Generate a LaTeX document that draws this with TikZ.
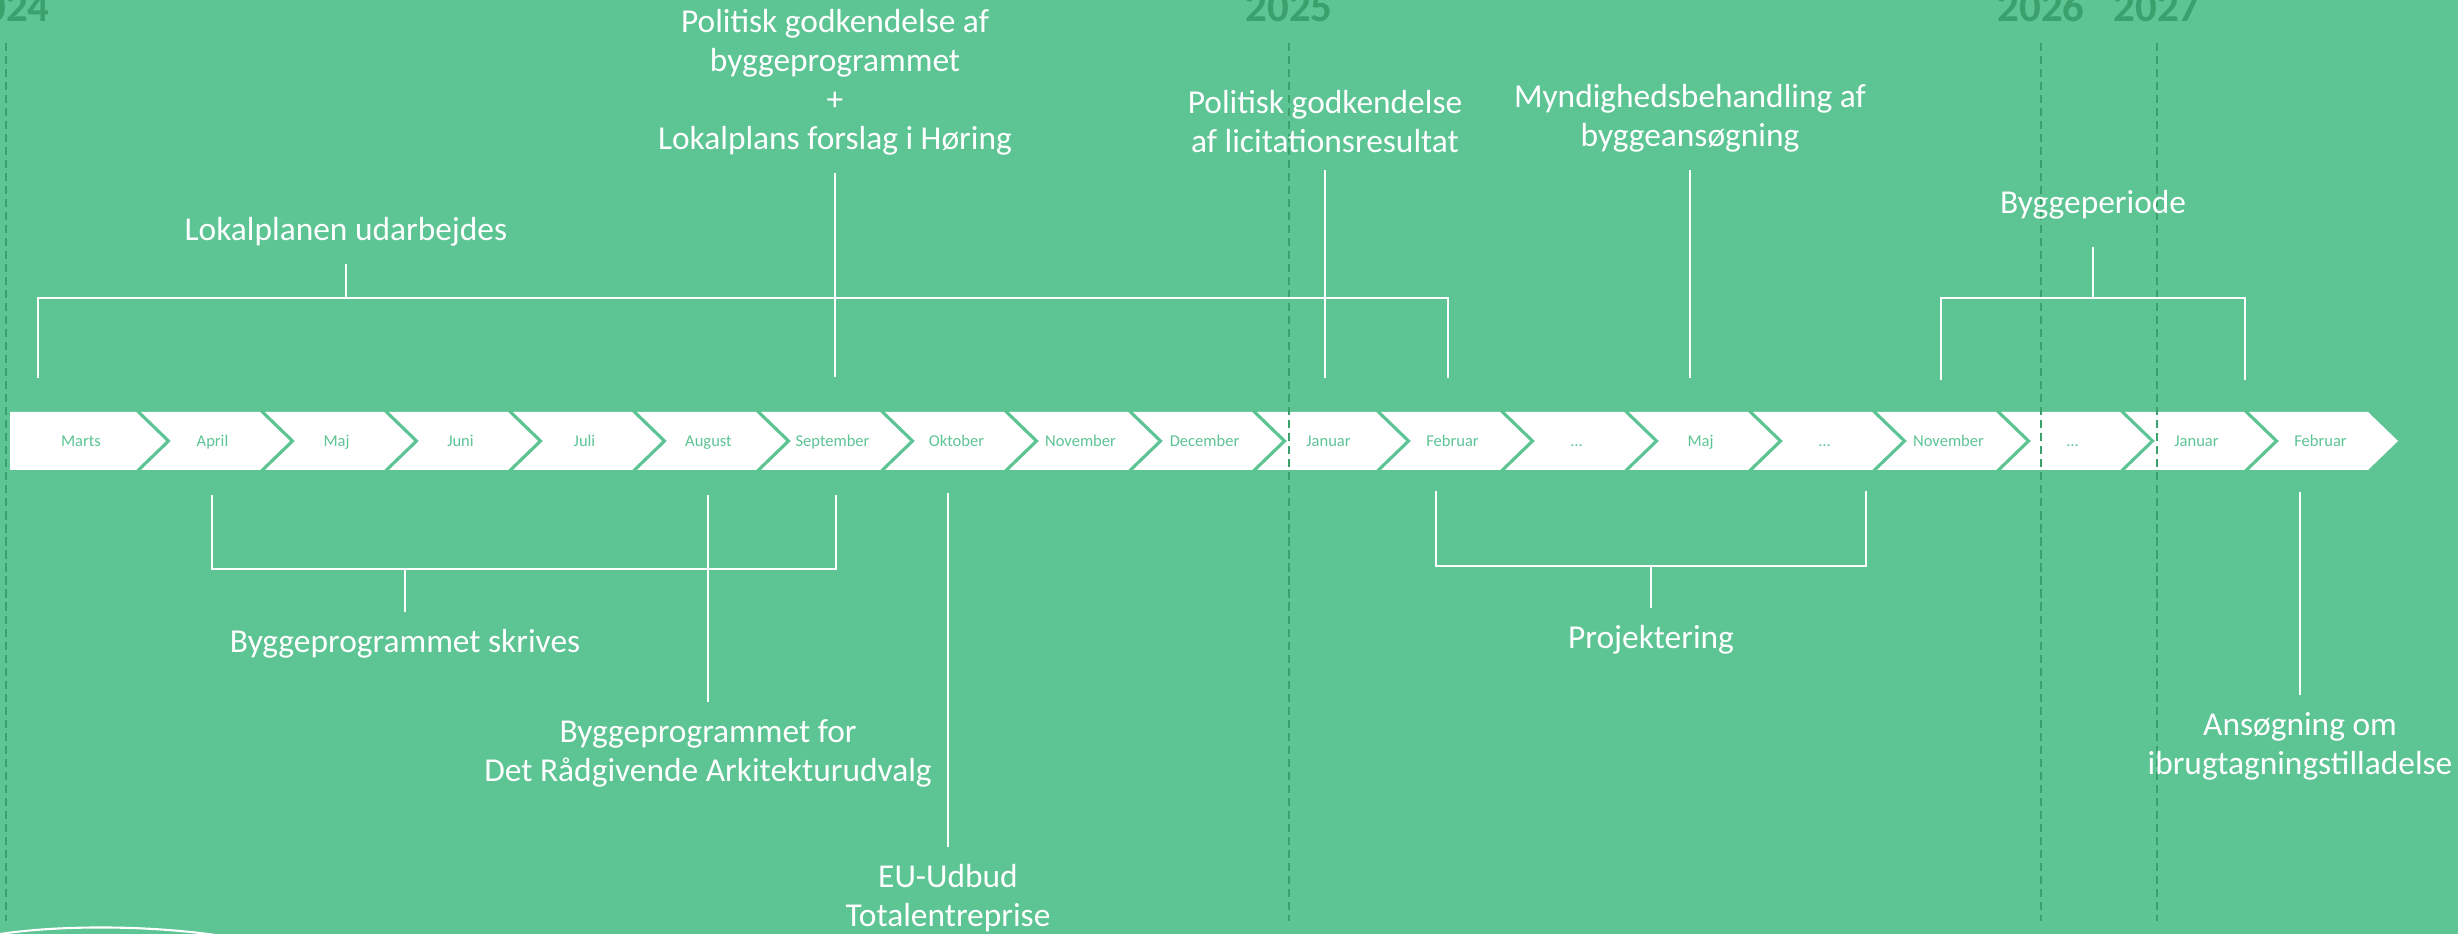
\documentclass[tikz,border=0pt]{standalone}
\usepackage{fontspec}
\setmainfont{Carlito}
\usetikzlibrary{calc,math}
\definecolor{bggreen}{RGB}{93,196,148}
\definecolor{yeargreen}{RGB}{58,160,108}

\begin{document}
\begin{tikzpicture}[x=0.01cm,y=-0.01cm,
  note/.style={text=white,align=center,inner sep=0pt,outer sep=5pt,font=\fontsize{9.5}{11.1}\selectfont},
  month/.style={text=bggreen,anchor=base,inner sep=0pt,font=\fontsize{4.7}{5.6}\selectfont},
  year/.style={text=yeargreen,anchor=base,inner sep=0pt,font=\fontsize{12.2}{14}\selectfont\bfseries},
  yearline/.style={yeargreen,line width=0.55pt,dash pattern=on 2.3pt off 1.4pt},
  link/.style={white,line width=0.6pt}]
\useasboundingbox (0,0) rectangle (2458,934);
\fill[bggreen] (0,0) rectangle (2458,934);

\foreach \m [count=\i from 0] in {Marts,April,Maj,Juni,Juli,August,September,Oktober,November,December,Januar,Februar,\dots,Maj,\dots,November,\dots,Januar,Februar}{
\tikzmath{\xt = 166+124*\i; \xn = \xt-119;}
\ifnum\i=0
  \fill[white] (10,412) -- (\xt-30,412) -- (\xt,441) -- (\xt-30,470) -- (10,470) -- cycle;
  \node[month] (m\i) at (81,447) {\m};
\else
  \fill[white] (\xn-30,412) -- (\xt-30,412) -- (\xt,441) -- (\xt-30,470) -- (\xn-30,470) -- (\xn,441) -- cycle;
  \node[month] (m\i) at (\xt-77.5,447) {\m};
\fi
}

\foreach \yr/\x in {2024/6,2025/1289,2026/2041,2027/2157}{
  \node[year] (y\yr) at (\x,22) {\yr};
  \coordinate (t\yr) at (\x,43);
  \coordinate (b\yr) at (\x,921);
  \draw[yearline] (t\yr) -- (b\yr);
}

% above the months
\node[note,anchor=south] (lokal) at (346,264) {Lokalplanen udarbejdes};
\coordinate (lokalM) at (346,298);
\coordinate (lokalA) at (38,378);
\coordinate (lokalB) at (1448,378);
\draw[link] (lokal) -- (lokalM);
\draw[link] (lokalA) -- (lokalA |- lokalM) -- (lokalB |- lokalM) -- (lokalB);

\node[note,anchor=south] (polit) at (835,173) {Politisk godkendelse af\\byggeprogrammet\\+\\Lokalplans forslag i Høring};
\coordinate (politE) at (835,377);
\draw[link] (polit) -- (politE);

\node[note,anchor=south] (licit) at (1325,170) {Politisk godkendelse\\af licitationsresultat};
\coordinate (licitE) at (1325,378);
\draw[link] (licit) -- (licitE);

\node[note,anchor=south] (myndig) at (1690,170) {Myndighedsbehandling af\\byggeansøgning};
\coordinate (myndigE) at (1690,378);
\draw[link] (myndig) -- (myndigE);

\node[note,anchor=south,outer sep=8pt] (periode) at (2093,247) {Byggeperiode};
\coordinate (periodeM) at (2093,298);
\coordinate (periodeA) at (1941,380);
\coordinate (periodeB) at (2245,380);
\draw[link] (periode) -- (periodeM);
\draw[link] (periodeA) -- (periodeA |- periodeM) -- (periodeB |- periodeM) -- (periodeB);

% below the months
\node[note,anchor=north] (skriv) at (405,612) {Byggeprogrammet skrives};
\coordinate (skrivM) at (405,569);
\coordinate (skrivA) at (212,495);
\coordinate (skrivB) at (836,495);
\draw[link] (skriv) -- (skrivM);
\draw[link] (skrivA) -- (skrivA |- skrivM) -- (skrivB |- skrivM) -- (skrivB);

\node[note,anchor=north] (raad) at (708,702) {Byggeprogrammet for\\Det Rådgivende Arkitekturudvalg};
\coordinate (raadS) at (708,495);
\draw[link] (raad) -- (raadS);

\node[note,anchor=north] (udbud) at (948,847) {EU-Udbud\\Totalentreprise};
\coordinate (udbudS) at (948,493);
\draw[link] (udbud) -- (udbudS);

\node[note,anchor=north] (proj) at (1651,608) {Projektering};
\coordinate (projM) at (1651,566);
\coordinate (projA) at (1436,491);
\coordinate (projB) at (1866,491);
\draw[link] (proj) -- (projM);
\draw[link] (projA) -- (projA |- projM) -- (projB |- projM) -- (projB);

\node[note,anchor=north] (ansog) at (2300,695) {Ansøgning om\\ibrugtagningstilladelse};
\coordinate (ansogS) at (2300,492);
\draw[link] (ansog) -- (ansogS);

\draw[link] (0,934) .. controls (60,925) and (150,925) .. (222,936);
\end{tikzpicture}
\end{document}
